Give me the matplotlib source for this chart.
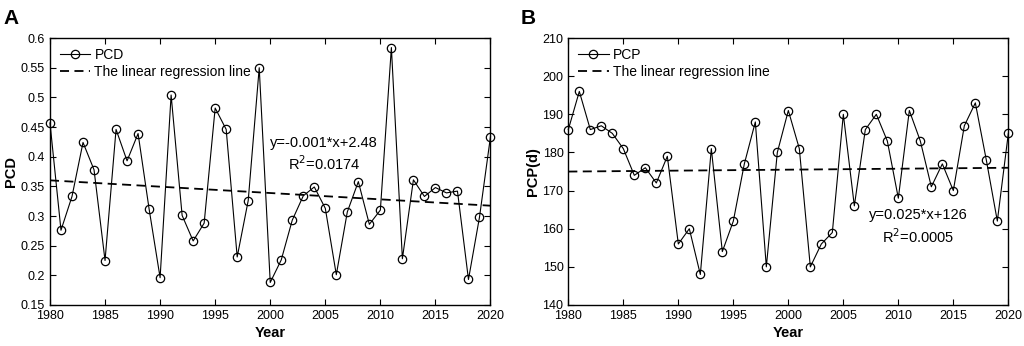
import numpy as np
import matplotlib.pyplot as plt

plt.rcParams['font.family'] = ['Liberation Sans', 'DejaVu Sans']

years = np.arange(1980, 2021)

# PCD values
pcd = [0.457, 0.276, 0.333, 0.424, 0.378, 0.225, 0.446, 0.393, 0.439, 0.312,
       0.196, 0.504, 0.301, 0.258, 0.288, 0.482, 0.446, 0.231, 0.326, 0.550,
       0.188, 0.226, 0.293, 0.334, 0.349, 0.313, 0.201, 0.307, 0.358, 0.286,
       0.310, 0.584, 0.228, 0.361, 0.333, 0.348, 0.339, 0.342, 0.193, 0.298,
       0.434]

# PCP values
pcp = [186, 196, 186, 187, 185, 181, 174, 176, 172, 179,
       156, 160, 148, 181, 154, 162, 177, 188, 150, 180,
       191, 181, 150, 156, 159, 190, 166, 186, 190, 183,
       168, 191, 183, 171, 177, 170, 187, 193, 178, 162,
       185]

xticks = [1980, 1985, 1990, 1995, 2000, 2005, 2010, 2015, 2020]


def panel(ax, y, name, ylabel, yticks, ylim, eq, txt_xy):
    ax.plot(years, y, '-o', color='black', lw=0.8, ms=6, clip_on=False,
            mfc='none', mec='black', mew=0.9, label=name, zorder=3)
    k, b = np.polyfit(years, y, 1)
    ax.plot(years, k * years + b, '--', color='black', lw=1.3,
            dashes=(5, 3), label='The linear regression line')
    ax.set_xlim(1980, 2020)
    ax.set_ylim(*ylim)
    ax.set_xticks(xticks)
    ax.set_yticks(yticks)
    ax.tick_params(direction='in', top=True, right=True, labelsize=9,
                   length=4, width=0.8, labelright=False, labeltop=False)
    for s in ax.spines.values():
        s.set_linewidth(1.0)
    ax.set_xlabel('Year', fontsize=10.5, fontweight='bold', labelpad=3)
    ax.set_ylabel(ylabel, fontsize=10.5, fontweight='bold', labelpad=2)
    ax.legend(loc='upper left', frameon=False, fontsize=10, handlelength=2.2,
              handletextpad=0.3, borderaxespad=0.3, labelspacing=0.2)
    ax.text(txt_xy[0], txt_xy[1], eq, ha='center', va='center',
            fontsize=10.5, linespacing=1.3)


fig = plt.figure(figsize=(10.24, 3.46), dpi=100)
ax1 = fig.add_axes([0.0488, 0.1185, 0.4302, 0.7715])
ax2 = fig.add_axes([0.555, 0.1185, 0.4297, 0.7715])

panel(ax1, pcd, 'PCD', 'PCD', np.arange(0.15, 0.601, 0.05), (0.15, 0.6),
      'y=-0.001*x+2.48\nR$^2$=0.0174', (2004.9, 0.404))
ax1.set_yticklabels(['0.15', '0.2', '0.25', '0.3', '0.35', '0.4', '0.45',
                     '0.5', '0.55', '0.6'])
panel(ax2, pcp, 'PCP', 'PCP(d)', np.arange(140, 211, 10), (140, 210),
      'y=0.025*x+126\nR$^2$=0.0005', (2011.8, 160.5))

fig.text(0.003, 0.975, 'A', fontsize=15, fontweight='bold', va='top')
fig.text(0.508, 0.975, 'B', fontsize=15, fontweight='bold', va='top')

fig.savefig('out.png', dpi=100)
